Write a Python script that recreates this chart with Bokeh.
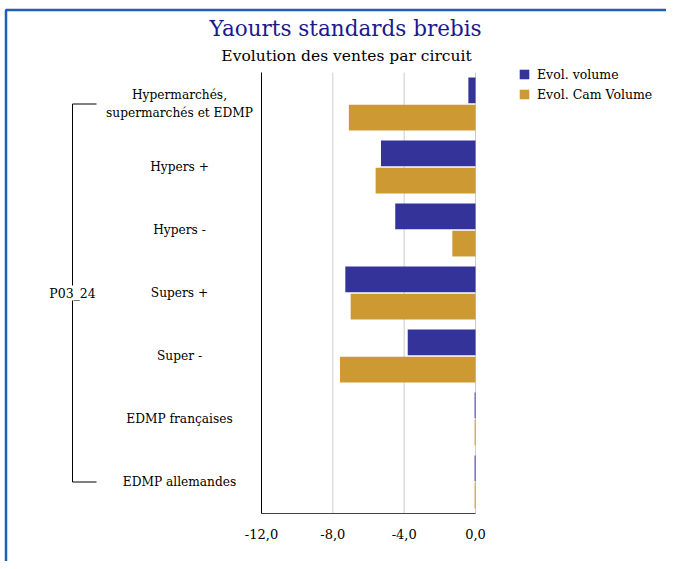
from bokeh.plotting import figure
from bokeh.models import Range1d, FixedTicker, Label, Legend, LegendItem, ColumnDataSource
from bokeh.embed import file_html
from bokeh.resources import INLINE

# ---- data ----
categories = ["Hypermarchés,\nsupermarchés et EDMP", "Hypers +", "Hypers -", "Supers +",
              "Super -", "EDMP françaises", "EDMP allemandes"]
evol_volume = [-0.4, -5.3, -4.5, -7.3, -3.8, -0.05, -0.05]
evol_cam_volume = [-7.1, -5.6, -1.3, -7.0, -7.6, -0.05, -0.05]
group_label = "P03_24"
x_ticks = [-12, -8, -4, 0]
x_tick_labels = ["-12,0", "-8,0", "-4,0", "0,0"]
title = "Yaourts standards brebis"
subtitle = "Evolution des ventes par circuit"
series_names = ["Evol. volume", "Evol. Cam Volume"]

BLUE = "#333399"
GOLD = "#CC9933"
FONT = "DejaVu Serif"

W, H = 666, 561
# plot area geometry (canvas px)
FL, FR, FT, FB = 261, 475, 72, 513
X0, X1 = -12, 0
ppx = (FR - FL) / (X1 - X0)
nrow = len(categories)
ppy = (FB - FT) / nrow


def dx(px):
    return X0 + (px - FL) / ppx


def dy(py):
    return (FB - py) / ppy


ypos = [nrow - i - 0.5 for i in range(nrow)]
src = ColumnDataSource(dict(y=ypos, vol=evol_volume, cam=evol_cam_volume,
                            yv=[y + 0.215 for y in ypos], yc=[y - 0.215 for y in ypos]))

p = figure(x_range=Range1d(dx(0), dx(W)), y_range=Range1d(dy(H), dy(0)),
           width=W, height=H, min_border=0,
           output_backend="svg", toolbar_location=None)
p.outline_line_color = None
p.background_fill_color = "white"
p.border_fill_color = "white"
p.xgrid.grid_line_color = None
p.ygrid.grid_line_color = None

# gridlines inside plot area
p.segment(x0=x_ticks[1:], y0=[0] * 3, x1=x_ticks[1:], y1=[nrow] * 3,
          line_color="#cccccc", line_width=1)

r1 = p.hbar(y="yv", right="vol", left=0, height=0.41,
            source=src, fill_color=BLUE, line_color=None)
r2 = p.hbar(y="yc", right="cam", left=0, height=0.41,
            source=src, fill_color=GOLD, line_color=None)

# axes
p.xaxis.fixed_location = 0
p.xaxis.bounds = (X0, X1)
p.xaxis.ticker = FixedTicker(ticks=x_ticks)
p.xaxis.major_label_overrides = {t: l for t, l in zip(x_ticks, x_tick_labels)}
p.xaxis.major_tick_line_color = None
p.xaxis.minor_tick_line_color = None
p.xaxis.axis_line_color = "#444444"
p.xaxis.major_label_text_font = FONT
p.xaxis.major_label_text_font_size = "13px"
p.xaxis.major_label_text_color = "black"
p.xaxis.major_label_standoff = 9

p.yaxis.fixed_location = X0
p.yaxis.bounds = (0, nrow)
p.yaxis.ticker = FixedTicker(ticks=[])
p.yaxis.major_label_text_font_size = "0px"
p.yaxis.major_tick_line_color = None
p.yaxis.minor_tick_line_color = None
p.yaxis.axis_line_color = "black"

# outer frame (left and top blue lines)
p.line(x=[dx(5.5), dx(5.5), dx(W + 10)], y=[dy(H + 20), dy(9.5), dy(9.5)],
       line_color="#1f5fb4", line_width=2.5)

# titles
p.add_layout(Label(x=dx(345), y=dy(28), text=title, text_align="center",
                   text_baseline="middle", text_font=FONT, text_font_size="21.5px",
                   text_color="#1a1a8c"))
p.add_layout(Label(x=dx(346), y=dy(55), text=subtitle, text_align="center",
                   text_baseline="middle", text_font=FONT, text_font_size="15.5px",
                   text_color="black"))

# category labels
for c, yc in zip(categories, ypos):
    p.add_layout(Label(x=dx(179), y=yc, text=c, text_align="center",
                       text_baseline="middle", text_font=FONT, text_font_size="12.2px",
                       text_color="black", text_line_height=1.3))

# bracket
top_y, bot_y = ypos[0], ypos[-1]
bx, bx2 = dx(72), dx(96)
p.line(x=[bx2, bx, bx, bx2], y=[top_y, top_y, bot_y, bot_y], line_color="black", line_width=1)
p.add_layout(Label(x=bx, y=nrow / 2, text=group_label, text_align="center",
                   text_baseline="middle", text_font=FONT, text_font_size="12.5px",
                   text_color="black", background_fill_color="white"))

# legend
legend = Legend(items=[LegendItem(label=series_names[0], renderers=[r1]),
                       LegendItem(label=series_names[1], renderers=[r2])],
                location=(518, H - 104), padding=0, margin=0, spacing=0,
                glyph_width=12, glyph_height=12, label_height=20, label_standoff=7,
                label_text_font=FONT, label_text_font_size="12.5px",
                label_text_color="black",
                border_line_color=None, background_fill_alpha=0)
p.add_layout(legend, "center")

open("out.html", "w").write(file_html(p, INLINE))
